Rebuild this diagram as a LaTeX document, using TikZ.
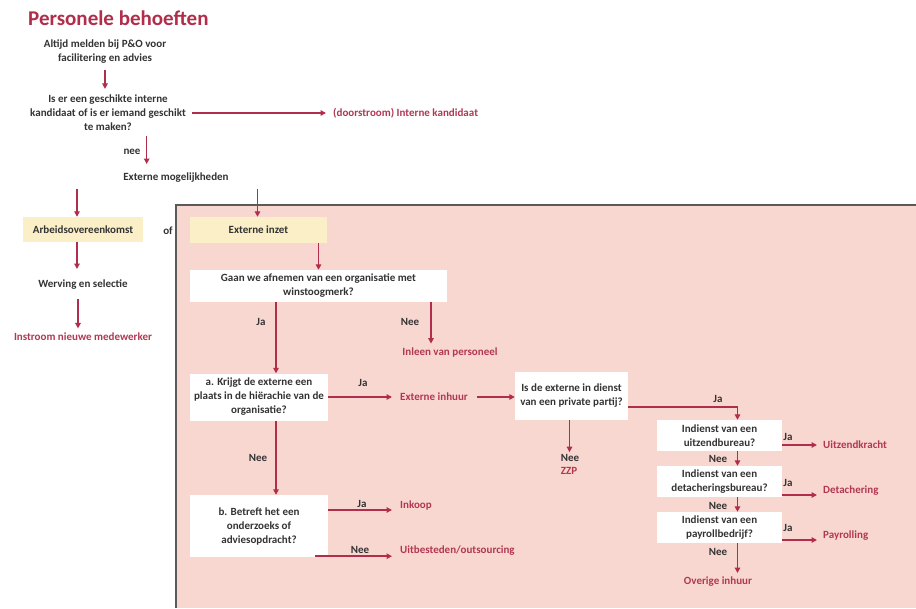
\documentclass[tikz,border=0pt]{standalone}
\usepackage{fontspec}
\setmainfont{Carlito}
\usetikzlibrary{arrows.meta,calc}
\definecolor{crim}{HTML}{B02E4C}
\definecolor{crimtxt}{HTML}{B23752}
\definecolor{pinkbg}{HTML}{F9D7D1}
\definecolor{yel}{HTML}{FBEFC8}
\definecolor{dtxt}{HTML}{333333}
\definecolor{brd}{HTML}{5A5A5A}
\begin{document}
\begin{tikzpicture}[x=1pt,y=-1pt,
  every node/.style={font=\fontsize{11}{14}\selectfont\bfseries, inner sep=0pt, align=center, text=dtxt},
  rlbl/.style={text=crimtxt},
  titlestyle/.style={font=\fontsize{21}{24}\selectfont\bfseries, text=crim},
  wbox/.style={fill=white},
  ybox/.style={fill=yel},
  arr/.style={draw=crim, line width=1.5pt, -{Triangle[length=5.5pt,width=5.5pt]}}]
\useasboundingbox (0,0) rectangle (916,608);
\fill[white] (0,0) rectangle (916,608);
% pink region
\fill[pinkbg] (176,205) rectangle (916,608);
\draw[brd, line width=1.2pt] (916,205) -- (176,205) -- (176,608);

% nodes
\node[titlestyle, anchor=west] (title) at (28,18) {Personele behoeften};
\node (altijd) at (105,52) {Altijd melden bij P\&O voor\\facilitering en advies};
\node (iser) at (108,113) {Is er een geschikte interne\\kandidaat of is er iemand geschikt\\te maken?};
\node[rlbl, anchor=west] (doorstroom) at (333,113) {(doorstroom) Interne kandidaat};
\node (nee1) at (132,152) {nee};
\node (extmog) at (176,178) {Externe mogelijkheden};
\node[ybox, minimum width=120pt, minimum height=25pt] (arbeid) at (83,229.5) {Arbeidsovereenkomst};
\node (of) at (168,231) {of};
\node[ybox, minimum width=137pt, minimum height=26pt] (extinzet) at (258.5,230) {Externe inzet};
\node (werving) at (83,285) {Werving en selectie};
\node[rlbl] (instroom) at (83,337) {Instroom nieuwe medewerker};
\node[wbox, minimum width=257pt, minimum height=32pt] (gaan) at (318.5,286) {Gaan we afnemen van een organisatie met\\winstoogmerk?};
\node (ja1) at (261,322) {Ja};
\node (nee2) at (410,322) {Nee};
\node[rlbl] (inleen) at (450,353) {Inleen van personeel};
\node[wbox, minimum width=138pt, minimum height=47pt] (boxa) at (259,397) {a. Krijgt de externe een\\plaats in de hiërachie van de\\organisatie?};
\node (ja2) at (363,383) {Ja};
\node[rlbl, anchor=west] (extinhuur) at (400,397) {Externe inhuur};
\node (nee3) at (258,458) {Nee};
\node[wbox, minimum width=138pt, minimum height=62pt] (boxb) at (259,526) {b. Betreft het een\\onderzoeks of\\adviesopdracht?};
\node (ja3) at (362,504) {Ja};
\node[rlbl, anchor=west] (inkoop) at (400,505) {Inkoop};
\node (nee4) at (360,550) {Nee};
\node[rlbl, anchor=west] (uitbest) at (400,551) {Uitbesteden/outsourcing};
\node[wbox, minimum width=113pt, minimum height=48pt] (private) at (571.5,396) {Is de externe in dienst\\van een private partij?};
\node (ja4) at (718,399) {Ja};
\node (nee5) at (570,457.5) {Nee};
\node[rlbl] (zzp) at (569,470.5) {ZZP};
\node[wbox, minimum width=125pt, minimum height=31pt] (uitzend) at (719.5,435.5) {Indienst van een\\uitzendbureau?};
\node[wbox, minimum width=125pt, minimum height=31pt] (detach) at (719.5,481.5) {Indienst van een\\detacheringsbureau?};
\node[wbox, minimum width=125pt, minimum height=31pt] (payroll) at (719.5,527.5) {Indienst van een\\payrollbedrijf?};
\node (ja5) at (788,437) {Ja};
\node (ja6) at (788,483) {Ja};
\node (ja7) at (788,528) {Ja};
\node (nee6) at (718,459) {Nee};
\node (nee7) at (718,506) {Nee};
\node (nee8) at (718,552) {Nee};
\node[rlbl, anchor=west] (uitzendkracht) at (823,445) {Uitzendkracht};
\node[rlbl, anchor=west] (detachering) at (823,491) {Detachering};
\node[rlbl, anchor=west] (payrolling) at (823,536) {Payrolling};
\node[rlbl] (overige) at (718,582) {Overige inhuur};

% connectors
\draw[arr] ($(altijd.south)+(0,5.5)$) -- ($(altijd.south |- iser.north)+(0,-6)$);
\draw[arr] ($(iser.east)+(6,0)$) -- ($(doorstroom.west)+(-7,0)$);
\draw[arr] ($(iser.south -| nee1.east)+(6,5)$) -- ($(nee1.east |- extmog.north)+(6,-9)$);
\draw[arr] ($(extmog.south -| arbeid.north)+(-6,6)$) -- ($(arbeid.north)+(-6,0)$);
\draw[arr] ($(extmog.south -| extinzet.north)+(-1,6)$) -- ($(extinzet.north)+(-1,0)$);
\draw[arr] ($(arbeid.south)+(-6,0)$) -- ($(arbeid.south |- werving.north)+(-6,-11)$);
\draw[arr] ($(werving.south)+(-5,9)$) -- ($(werving.south |- instroom.north)+(-5,-4.5)$);
\draw[arr] ($(extinzet.south -| gaan.north)$) -- (gaan.north);
\draw[arr] ($(gaan.south -| boxa.north)+(17,0)$) -- ($(boxa.north)+(17,0)$);
\draw[arr] ($(gaan.south -| inleen.north)+(-19,0)$) -- ($(inleen.north)+(-19,-4.5)$);
\draw[arr] (boxa.east) -- ($(boxa.east -| extinhuur.west)+(-8,0)$);
\draw[arr] ($(extinhuur.east)+(9,0)$) -- (extinhuur.east -| private.west);
\draw[arr] ($(boxa.south)+(17,0)$) -- ($(boxb.north)+(17,0)$);
\draw[arr] ($(boxb.east)+(0,-16)$) -- ($(boxb.east -| inkoop.west)+(-8,-16)$);
\draw[arr] ($(boxb.south east)+(-13,-1)$) -- ($(boxb.south east -| uitbest.west)+(-8,-1)$);
\draw[arr] ($(private.east)+(0,11)$) -| ($(uitzend.north)+(18,0)$);
\draw[arr] ($(private.south)+(-2,0)$) -- ($(private.south |- nee5.north)+(-2,-1.5)$);
\draw[arr] ($(uitzend.east)+(0,9.5)$) -- ($(uitzend.east -| uitzendkracht.west)+(-6,9.5)$);
\draw[arr] ($(uitzend.south)+(18,0)$) -- ($(detach.north)+(18,0)$);
\draw[arr] ($(detach.east)+(0,13.5)$) -- ($(detach.east -| detachering.west)+(-6,13.5)$);
\draw[arr] ($(detach.south)+(18,0)$) -- ($(payroll.north)+(18,0)$);
\draw[arr] ($(payroll.east)+(0,12.5)$) -- ($(payroll.east -| payrolling.west)+(-6,12.5)$);
\draw[arr] ($(payroll.south)+(18,0)$) -- ($(payroll.south |- overige.north)+(18,-4)$);
\end{tikzpicture}
\end{document}
